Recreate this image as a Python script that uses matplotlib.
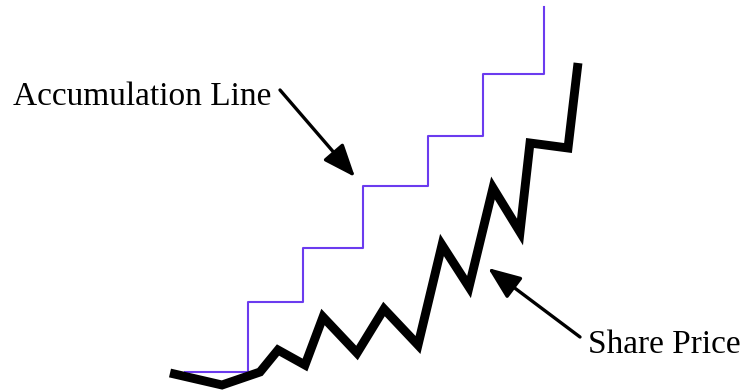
import numpy as np
import matplotlib as mpl
mpl.use('Agg')
import matplotlib.pyplot as plt

## values (arbitrary units, x = time, y = level)
price_x = [170, 222, 260, 278, 305, 323, 357, 384, 418, 442, 469, 493, 520, 530, 568, 578]
price_y = [18, 6, 19, 41, 26, 74, 38, 82, 46, 146, 104, 203, 159, 248, 243, 328]

accum_x = [185, 248, 303, 363, 428, 483, 544]
accum_y = [19, 89, 143, 205, 255, 317, 384]

labels = ['Accumulation Line', 'Share Price']

fontsize = 24
purple = '#6B3BEF'

F = plt.figure(figsize=(7.44, 3.91), dpi=100)
ax = F.add_axes([0, 0, 1, 1])
ax.set_xlim(0, 744)
ax.set_ylim(0, 391)
ax.axis('off')

ax.step(accum_x, accum_y, where='post', color=purple, lw=1.5, zorder=1)
ax.plot(price_x, price_y, color='black', lw=6.4,
        solid_joinstyle='miter', solid_capstyle='butt', zorder=2)

## labels and pointers
ax.text(13, 286, labels[0], fontsize=fontsize, family='Liberation Serif',
        ha='left', va='baseline')
ax.text(588, 38, labels[1], fontsize=fontsize, family='Liberation Serif',
        ha='left', va='baseline')

arrow = dict(arrowstyle='-|>,head_length=1.0,head_width=0.4', lw=2.4,
             color='black', mutation_scale=20, shrinkA=0, shrinkB=0)
ax.annotate('', xy=(355, 214), xytext=(280, 301), arrowprops=arrow)
ax.annotate('', xy=(488, 123), xytext=(580, 54), arrowprops=arrow)

plt.savefig('out.png', dpi=100)
